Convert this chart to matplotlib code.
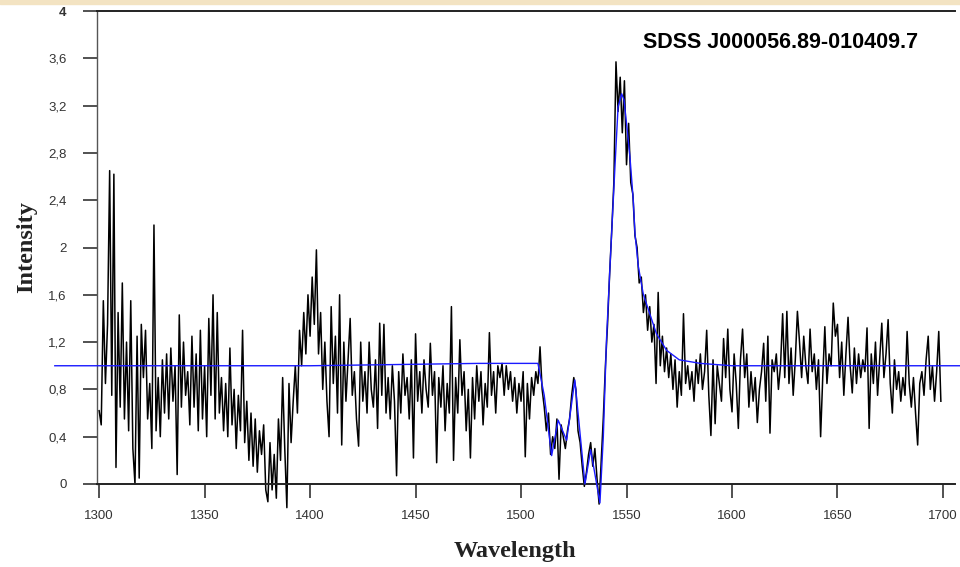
import numpy as np
import matplotlib
matplotlib.use("Agg")
import matplotlib.pyplot as plt
from matplotlib.patches import Rectangle

# observed spectrum, one sample per Angstrom from 1300 to 1699
wave = np.arange(1300, 1700)
flux = [
    0.62, 0.50, 1.55, 0.85, 1.35, 2.65, 0.75, 2.62, 0.14, 1.45,
    0.65, 1.70, 0.55, 1.20, 0.45, 1.55, 0.30, 0.00, 1.25, 0.05,
    1.35, 0.90, 1.30, 0.55, 0.85, 0.30, 2.19, 0.45, 0.90, 0.40,
    1.05, 0.60, 1.10, 0.55, 1.15, 0.70, 1.00, 0.08, 1.43, 0.65,
    1.20, 0.75, 0.95, 0.50, 1.25, 0.65, 1.10, 0.45, 1.30, 0.55,
    1.00, 0.40, 1.40, 0.75, 1.60, 0.55, 1.45, 0.60, 0.90, 0.45,
    0.85, 0.40, 1.15, 0.50, 0.80, 0.30, 0.75, 0.45, 1.30, 0.35,
    0.70, 0.20, 0.60, 0.15, 0.55, 0.10, 0.45, 0.25, 0.50, -0.05,
    -0.15, 0.35, -0.05, 0.25, -0.12, 0.55, 0.20, 0.90, 0.30, -0.20,
    0.85, 0.35, 0.70, 1.00, 0.60, 1.30, 1.00, 1.45, 1.10, 1.60,
    1.25, 1.75, 1.35, 1.98, 1.10, 1.45, 0.80, 1.20, 0.70, 0.40,
    1.50, 0.85, 1.25, 0.60, 1.60, 0.33, 1.20, 0.70, 1.05, 1.40,
    0.75, 0.95, 0.55, 0.32, 1.20, 0.70, 0.95, 0.60, 1.20, 0.80,
    0.65, 1.05, 0.47, 1.36, 0.75, 1.35, 0.60, 0.90, 0.55, 1.00,
    0.70, 0.07, 0.95, 0.60, 1.10, 0.75, 0.90, 0.55, 1.05, 0.22,
    1.27, 0.70, 0.95, 0.60, 1.05, 0.80, 0.65, 1.19, 0.75, 0.95,
    0.18, 0.90, 0.65, 1.00, 0.45, 0.85, 0.60, 1.50, 0.20, 0.90,
    0.60, 1.22, 0.75, 0.95, 0.45, 0.80, 0.22, 0.90, 0.55, 1.00,
    0.70, 0.95, 0.50, 0.85, 0.65, 1.28, 0.75, 0.95, 0.60, 1.00,
    0.90, 1.02, 0.75, 1.00, 0.80, 0.95, 0.70, 0.90, 0.60, 0.85,
    0.70, 0.95, 0.23, 0.85, 0.55, 0.90, 0.75, 0.95, 0.85, 1.16,
    0.80, 0.65, 0.45, 0.60, 0.25, 0.40, 0.30, 0.55, 0.04, 0.50,
    0.40, 0.30, 0.45, 0.55, 0.75, 0.90, 0.80, 0.45, 0.35, 0.15,
    -0.02, 0.10, 0.25, 0.35, 0.15, 0.30, 0.05, -0.17, 0.20, 0.56,
    1.00, 1.35, 1.78, 2.15, 2.55, 3.57, 3.15, 3.44, 2.97, 3.41,
    2.70, 3.05, 2.55, 2.45, 2.10, 2.00, 1.70, 1.75, 1.45, 1.60,
    1.30, 1.50, 1.20, 1.35, 0.85, 1.62, 1.00, 1.25, 0.95, 1.15,
    0.90, 1.10, 0.80, 1.05, 0.65, 0.95, 0.75, 1.44, 0.85, 1.00,
    0.80, 0.95, 0.70, 1.05, 0.85, 1.10, 0.80, 0.95, 1.30, 0.75,
    0.41, 1.05, 0.51, 1.00, 0.85, 0.70, 1.23, 0.90, 1.31, 0.80,
    0.61, 1.10, 0.85, 0.47, 1.05, 1.31, 0.90, 1.10, 0.65, 0.95,
    0.70, 0.90, 0.52, 0.80, 0.95, 1.19, 0.70, 1.25, 0.43, 1.05,
    0.95, 1.10, 0.80, 1.00, 1.44, 0.90, 1.46, 0.85, 1.15, 0.75,
    1.05, 1.46, 1.20, 0.90, 1.25, 1.00, 0.85, 1.31, 0.95, 1.10,
    0.80, 1.05, 0.40, 0.90, 1.33, 0.85, 1.10, 1.00, 1.53, 1.25,
    1.35, 0.90, 1.20, 0.75, 1.10, 1.41, 1.00, 0.77, 1.15, 0.85,
    1.10, 0.90, 1.05, 0.95, 1.32, 0.47, 1.10, 0.85, 1.20, 0.75,
    1.05, 1.36, 0.90, 1.10, 1.39, 0.85, 0.60, 1.05, 0.80, 0.95,
    0.70, 0.90, 0.75, 1.29, 0.85, 0.65, 0.90, 0.60, 0.33, 0.85,
    0.95, 0.75, 1.05, 1.25, 0.80, 1.00, 0.70, 0.95, 1.29, 0.70,
]

# fitted model (blue)
model_wave = [1279, 1400, 1480, 1508, 1511, 1514.5, 1517.6, 1521.6, 1525.5,
              1530.3, 1533, 1537.4, 1539, 1540.5, 1542, 1544.5, 1546, 1547.7,
              1548.8, 1550, 1551.6, 1553.2, 1554, 1555.6, 1557.9, 1561,
              1564.2, 1569, 1575, 1585, 1600, 1650, 1708]
model_flux = [1.0, 1.0, 1.02, 1.02, 0.75, 0.24, 0.54, 0.37, 0.88,
              0.0, 0.29, -0.16, 0.40, 1.22, 1.78, 2.68, 3.19, 3.30,
              3.25, 3.05, 2.77, 2.40, 2.12, 1.84, 1.61, 1.44,
              1.27, 1.13, 1.05, 1.02, 1.0, 1.0, 1.0]

xticks = [1300, 1350, 1400, 1450, 1500, 1550, 1600, 1650, 1700]
yticks = [0, 0.4, 0.8, 1.2, 1.6, 2, 2.4, 2.8, 3.2, 3.6, 4]
ylabels = ["0", "0,4", "0,8", "1,2", "1,6", "2", "2,4", "2,8", "3,2", "3,6", "4"]

W, H = 960, 567
fig = plt.figure(figsize=(W / 100, H / 100), dpi=100)
fig.patches.append(Rectangle((0, 1 - 4 / H), 1, 4 / H, transform=fig.transFigure,
                             color="#f3e3c2", zorder=0))

ax = fig.add_axes([97 / W, (H - 484) / H, (955 - 97) / W, 473 / H])
ax.plot(wave, flux, color="black", lw=1.1, clip_on=False, zorder=2)
ax.plot(model_wave, model_flux, color="#1a1aff", lw=1.0, clip_on=False, zorder=3)

ax.set_xlim(1299, 1705.7)
ax.set_ylim(0, 4)

ax.spines["right"].set_visible(False)
ax.spines["top"].set_linewidth(1.4)
ax.spines["top"].set_color("#222222")
ax.spines["bottom"].set_linewidth(1.4)
ax.spines["bottom"].set_color("#222222")
ax.spines["left"].set_linewidth(1.0)
ax.spines["left"].set_color("#555555")

tickfont = ["Liberation Sans Narrow", "Liberation Sans", "DejaVu Sans"]
ax.set_xticks(xticks)
ax.set_xticklabels([str(t) for t in xticks], family=tickfont, fontsize=9.5, color="#333333")
ax.set_yticks(yticks)
ax.set_yticklabels(ylabels, family=tickfont, fontsize=9.5, color="#333333")
ax.tick_params(axis="x", direction="out", length=10, width=1.2, color="#333333", pad=9)
ax.tick_params(axis="y", direction="out", length=10, width=1.2, color="#333333", pad=12)
ax.get_yticklabels()[-1].set_fontweight("bold")

fig.text(643 / W, 1 - 43 / H, "SDSS J000056.89-010409.7", fontsize=15.5,
         fontweight="bold", family="Liberation Sans", va="center", ha="left")
fig.text(515 / W, 1 - 551 / H, "Wavelength", fontsize=17.5, fontweight="bold",
         family="Liberation Serif", va="center", ha="center", color="#222222")
fig.text(27 / W, 1 - 247 / H, "Intensity", fontsize=17.5, fontweight="bold",
         family="Liberation Serif", va="center", ha="center", rotation=90,
         color="#222222")

fig.savefig("out.png", dpi=100)
